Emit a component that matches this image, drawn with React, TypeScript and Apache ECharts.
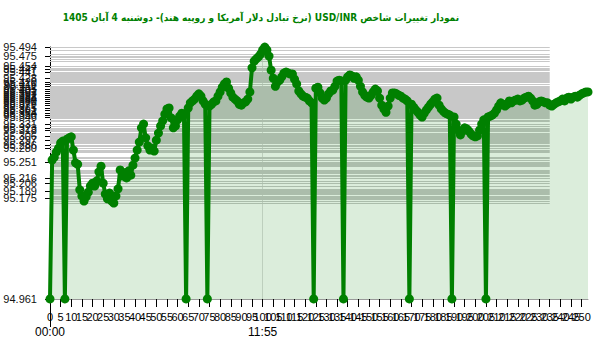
import React, { useEffect, useRef } from "react";
import * as echarts from "echarts";

const TITLE = "نمودار تغییرات شاخص USD/INR (نرخ تبادل دلار آمریکا و روپیه هند)- دوشنبه 4 آبان 1405";

const Y_MIN = 94.961;
const Y_MAX = 95.494;

// y tick labels
const yTickLabels: number[] = [
  94.961, 95.175, 95.189, 95.206, 95.216, 95.251, 95.280, 95.286, 95.297,
  95.306, 95.318, 95.323, 95.331, 95.346, 95.350, 95.354, 95.361, 95.365,
  95.371, 95.376, 95.380, 95.384, 95.388, 95.392, 95.397, 95.401, 95.405,
  95.411, 95.416, 95.420, 95.428, 95.441, 95.447, 95.454, 95.494,
];
// labels drawn on an overlaid axis so the max label does not suppress them
const yTickLabelsExtra: number[] = [95.475];

// rate values, one per sample (index 0..253)
const values: number[] = [
  94.961, 95.255, 95.261, 95.272, 95.280, 95.291, 95.295, 94.961, 95.299, 95.302,
  95.304, 95.276, 95.249, 95.246, 95.192, 95.179, 95.168, 95.177, 95.187, 95.200,
  95.206, 95.200, 95.211, 95.230, 95.242, 95.206, 95.183, 95.173, 95.185, 95.168,
  95.164, 95.179, 95.194, 95.234, 95.221, 95.228, 95.217, 95.232, 95.223, 95.244,
  95.259, 95.276, 95.293, 95.323, 95.331, 95.302, 95.285, 95.276, 95.280, 95.274,
  95.297, 95.312, 95.327, 95.338, 95.352, 95.363, 95.365, 95.344, 95.323, 95.327,
  95.340, 95.348, 95.354, 95.350, 94.961, 95.365, 95.376, 95.380, 95.384, 95.390,
  95.395, 95.390, 95.380, 95.373, 94.961, 95.369, 95.373, 95.378, 95.380, 95.390,
  95.399, 95.409, 95.416, 95.420, 95.407, 95.397, 95.388, 95.384, 95.380, 95.373,
  95.371, 95.376, 95.378, 95.384, 95.399, 95.450, 95.464, 95.469, 95.473, 95.479,
  95.488, 95.494, 95.488, 95.475, 95.445, 95.428, 95.411, 95.420, 95.424, 95.431,
  95.439, 95.441, 95.439, 95.437, 95.437, 95.426, 95.416, 95.401, 95.395, 95.390,
  95.388, 95.386, 95.380, 95.376, 94.961, 95.407, 95.409, 95.397, 95.386, 95.382,
  95.386, 95.395, 95.401, 95.403, 95.411, 95.422, 95.424, 95.422, 94.961, 95.424,
  95.431, 95.435, 95.433, 95.428, 95.431, 95.424, 95.411, 95.399, 95.392, 95.388,
  95.386, 95.392, 95.399, 95.405, 95.401, 95.386, 95.371, 95.363, 95.356, 95.369,
  95.386, 95.397, 95.397, 95.395, 95.392, 95.390, 95.386, 95.384, 95.380, 94.961,
  95.373, 95.367, 95.361, 95.356, 95.350, 95.346, 95.354, 95.361, 95.367, 95.373,
  95.378, 95.384, 95.386, 95.371, 95.363, 95.358, 95.354, 95.352, 95.350, 94.961,
  95.346, 95.331, 95.318, 95.308, 95.316, 95.323, 95.321, 95.316, 95.310, 95.306,
  95.304, 95.306, 95.318, 95.331, 95.340, 94.961, 95.346, 95.348, 95.350, 95.354,
  95.361, 95.369, 95.376, 95.373, 95.369, 95.373, 95.380, 95.376, 95.380, 95.382,
  95.384, 95.380, 95.382, 95.386, 95.388, 95.390, 95.386, 95.380, 95.371, 95.373,
  95.378, 95.380, 95.378, 95.376, 95.376, 95.371, 95.369, 95.373, 95.376, 95.378,
  95.380, 95.384, 95.380, 95.386, 95.388, 95.384, 95.388, 95.390, 95.388, 95.392,
  95.395, 95.397, 95.399, 95.399,
];

// category labels (sample indices)
const categories: string[] = values.map((_, i) => String(i));

// time labels shown on the second label row
const timeLabels: { [idx: number]: string } = { 0: "00:00", 100: "11:55" };
const TIME_MARK_INDEX = 100;
const GRID_LINE_END_INDEX = 235;

const yLabelStyle = {
  formatter: (v: number) => v.toFixed(3),
  margin: 13,
  fontSize: 11,
  color: "#111",
  fontFamily: "'Liberation Sans', Arial, sans-serif",
};

export default function App() {
  const ref = useRef<HTMLDivElement>(null);

  useEffect(() => {
    if (!ref.current) return;
    const chart = echarts.init(ref.current, null, { renderer: "svg" });

    const uniq = Array.from(new Set(values.concat(yTickLabels, yTickLabelsExtra))).sort(
      (a, b) => a - b
    );
    const gridLines = uniq
      .filter((v) => v > Y_MIN)
      .map((v) => [{ coord: [0, v] }, { coord: [GRID_LINE_END_INDEX, v] }]);

    const option: any = {
      animation: false,
      backgroundColor: "#fff",
      title: {
        text: "\u202B" + TITLE + "\u202C",
        right: 136,
        top: 7,
        textStyle: {
          color: "#008000",
          fontSize: 10,
          fontWeight: "bold",
          fontFamily: "'DejaVu Sans Condensed', 'DejaVu Sans', sans-serif",
        },
      },
      grid: { left: 50, right: 12, top: 47, bottom: 53, containLabel: false },
      xAxis: [
        {
          type: "category",
          data: categories,
          boundaryGap: false,
          axisLine: { show: true, lineStyle: { color: "#999", width: 1 } },
          axisTick: {
            show: true,
            interval: 4,
            length: 8,
            lineStyle: { color: "#000", width: 1 },
          },
          axisLabel: {
            interval: (i: number) => i % 5 === 0 || i === values.length - 1,
            margin: 12,
            fontSize: 11,
            color: "#000",
            fontFamily: "'Liberation Sans Narrow', 'Liberation Sans', Arial, sans-serif",
          },
          splitLine: { show: false },
        },
        {
          type: "category",
          data: categories,
          boundaryGap: false,
          position: "bottom",
          axisLine: { show: false },
          axisTick: {
            show: true,
            interval: (i: number) => i === 0,
            length: 28,
            lineStyle: { color: "#000", width: 1 },
          },
          axisLabel: {
            interval: (i: number) => timeLabels[i] !== undefined,
            formatter: (_v: string, i: number) => timeLabels[i] || "",
            margin: 27,
            fontSize: 12,
            color: "#000",
            fontFamily: "'Liberation Sans', Arial, sans-serif",
          },
          splitLine: {
            show: true,
            interval: (i: number) => i === TIME_MARK_INDEX,
            lineStyle: { color: "#dcdcdc", width: 1 },
          },
        },
      ],
      yAxis: [
        {
          type: "value",
          min: Y_MIN - 0.0001,
          max: Y_MAX + 0.0001,
          axisLine: { show: true, lineStyle: { color: "#000", width: 1 } },
          axisTick: {
            show: true,
            length: 5,
            customValues: yTickLabels,
            lineStyle: { color: "#000" },
          },
          axisLabel: {
            ...yLabelStyle,
            customValues: yTickLabels,
            showMaxLabel: true,
            showMinLabel: true,
          },
          splitLine: { show: false },
        },
        {
          type: "value",
          position: "left",
          offset: 0,
          min: Y_MIN - 0.0001,
          max: Y_MAX + 0.0001,
          axisLine: { show: false },
          axisTick: {
            show: true,
            length: 5,
            customValues: yTickLabelsExtra,
            lineStyle: { color: "#000" },
          },
          axisLabel: {
            ...yLabelStyle,
            customValues: yTickLabelsExtra,
          },
          splitLine: { show: false },
        },
      ],
      series: [
        {
          type: "line",
          data: [],
          z: 1,
          silent: true,
          markLine: {
            z: 1,
            silent: true,
            symbol: ["none", "none"],
            label: { show: false },
            lineStyle: { color: "#c8c8c8", width: 1, type: "solid" },
            emphasis: { disabled: true },
            data: gridLines,
          },
        },
        {
          type: "line",
          data: values,
          z: 3,
          symbol: "circle",
          symbolSize: 9,
          showSymbol: true,
          showAllSymbol: true,
          lineStyle: { color: "#008000", width: 4 },
          itemStyle: { color: "#008000", borderWidth: 0, opacity: 1 },
          areaStyle: { color: "rgba(0,128,0,0.2)" },
        },
      ],
    };

    chart.setOption(option);
    return () => chart.dispose();
  }, []);

  return (
    <div
      ref={ref}
      style={{ position: "fixed", left: 0, top: 0, width: 600, height: 352 }}
    />
  );
}
